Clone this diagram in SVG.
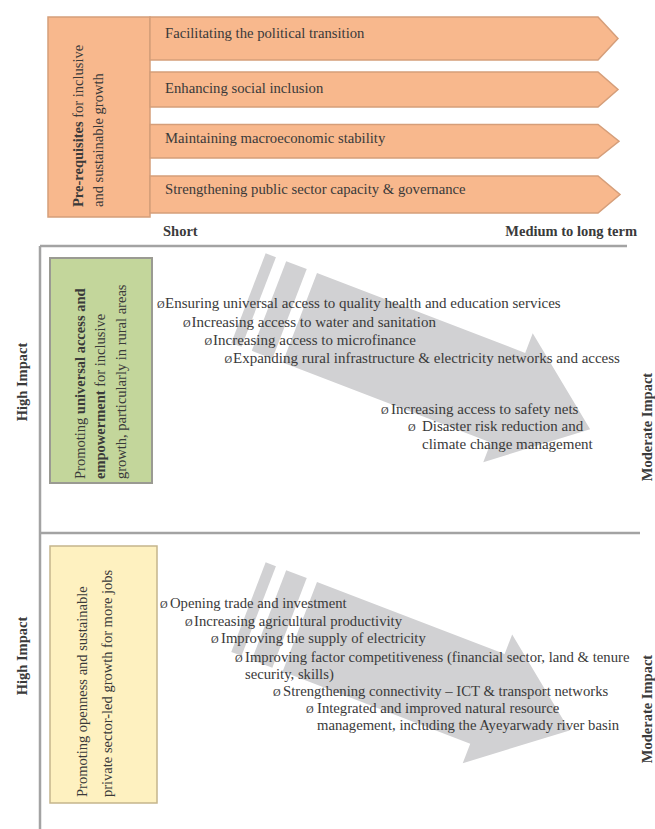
<svg xmlns="http://www.w3.org/2000/svg" width="655" height="829" viewBox="0 0 655 829">
<style>
  text { font-family: "Liberation Serif", "Times New Roman", serif; fill: #3a3a3a; }
  .s15 { font-size: 15px; }
  .s147 { font-size: 14.7px; }
  .s145 { font-size: 14.5px; }
  .b { font-weight: bold; }
  .bul { font-size: 10.5px; }
  .orange { fill: #F8B88D; stroke: #D59E7A; stroke-width: 1.5; }
  .green { fill: #C3D69B; stroke: #9A9A92; stroke-width: 2; }
  .yellow { fill: #FEF1C0; stroke: #C5B58C; stroke-width: 1.5; }
  .garrow { fill: #D1D1D3; }
  .axis { stroke: #A3A3A3; stroke-width: 2.5; fill: none; }
  .mid { text-anchor: middle; }
  .end { text-anchor: end; }
</style>
<defs>
  <g id="stripes">
    <rect x="-55" y="0" width="11" height="96"/>
    <rect x="-33" y="0" width="22" height="96"/>
  </g>
</defs>

<g id="axes">
  <path class="axis" d="M40,246 H627"/>
  <path class="axis" d="M40,246 V829"/>
  <path class="axis" d="M40,533 H640"/>
  <text class="s145 b" x="163" y="236">Short</text>
  <text class="s145 b end" x="637" y="236">Medium to long term</text>
  <text class="s145 b mid" transform="translate(27,382) rotate(-90)">High Impact</text>
  <text class="s145 b mid" transform="translate(27,656) rotate(-90)">High Impact</text>
  <text class="s145 b mid" transform="translate(652,427) rotate(-90)">Moderate Impact</text>
  <text class="s145 b mid" transform="translate(652,709) rotate(-90)">Moderate Impact</text>
</g>

<g id="connectors">
  <g class="garrow" transform="translate(317,273) rotate(21)">
    <use href="#stripes"/>
    <path d="M0,0 H223 V-21 L311,48 L223,117 V96 H0 Z"/>
  </g>
  <g class="garrow" transform="translate(317,582) rotate(21)">
    <use href="#stripes"/>
    <path d="M0,0 H201 V-21 L289,48 L201,117 V96 H0 Z"/>
  </g>
</g>

<g id="prerequisites">
  <rect class="orange" x="48" y="17" width="102" height="200"/>
  <text class="s145" transform="translate(82.5,207) rotate(-90)"><tspan class="b">Pre-requisites</tspan> for inclusive</text>
  <text class="s145" transform="translate(102.5,207) rotate(-90)">and sustainable growth</text>
</g>

<g id="arrow-political">
  <path class="orange" d="M150,17 H598 L618,38.5 L598,60 H150 Z"/>
  <text class="s147" x="165" y="38">Facilitating the political transition</text>
</g>
<g id="arrow-social">
  <path class="orange" d="M150,72 H598 L618,89.5 L598,107 H150 Z"/>
  <text class="s147" x="165" y="93">Enhancing social inclusion</text>
</g>
<g id="arrow-macro">
  <path class="orange" d="M150,124.5 H598 L619,141.25 L598,158 H150 Z"/>
  <text class="s147" x="165" y="143">Maintaining macroeconomic stability</text>
</g>
<g id="arrow-governance">
  <path class="orange" d="M150,176 H598 L620,194.5 L598,213 H150 Z"/>
  <text class="s147" x="165" y="194">Strengthening public sector capacity &amp; governance</text>
</g>

<g id="universal-access">
  <rect class="green" x="50" y="258" width="102" height="225"/>
  <text class="s145" transform="translate(85,479) rotate(-90)">Promoting <tspan class="b">universal access and</tspan></text>
  <text class="s145" transform="translate(105,479) rotate(-90)"><tspan class="b">empowerment</tspan> for inclusive</text>
  <text class="s145" transform="translate(126,479) rotate(-90)">growth, particularly in rural areas</text>
</g>

<g id="universal-access-items">
  <text class="s15" y="308"><tspan class="bul" x="157">Ø</tspan><tspan x="165">Ensuring universal access to quality health and education services</tspan></text>
  <text class="s15" y="326.5"><tspan class="bul" x="183">Ø</tspan><tspan x="191.5">Increasing access to water and sanitation</tspan></text>
  <text class="s15" y="344.5"><tspan class="bul" x="204.5">Ø</tspan><tspan x="213">Increasing access to microfinance</tspan></text>
  <text class="s15" y="362.5"><tspan class="bul" x="224.5">Ø</tspan><tspan x="233">Expanding rural infrastructure &amp; electricity networks and access</tspan></text>
  <text class="s15" y="414"><tspan class="bul" x="381">Ø</tspan><tspan x="391">Increasing access to safety nets</tspan></text>
  <text class="s15" y="431"><tspan class="bul" x="408">Ø</tspan><tspan x="422">Disaster risk reduction and</tspan></text>
  <text class="s15" x="422" y="449">climate change management</text>
</g>

<g id="openness">
  <rect class="yellow" x="50" y="546" width="107" height="257"/>
  <text class="s145" transform="translate(86.5,797) rotate(-90)">Promoting openness and sustainable</text>
  <text class="s145" transform="translate(111.5,797) rotate(-90)">private sector-led growth for more jobs</text>
</g>

<g id="openness-items">
  <text class="s147" y="608"><tspan class="bul" x="160">Ø</tspan><tspan x="170">Opening trade and investment</tspan></text>
  <text class="s147" y="626"><tspan class="bul" x="185">Ø</tspan><tspan x="194">Increasing agricultural productivity</tspan></text>
  <text class="s147" y="643"><tspan class="bul" x="211">Ø</tspan><tspan x="221">Improving the supply of electricity</tspan></text>
  <text class="s147" y="662"><tspan class="bul" x="235">Ø</tspan><tspan x="245">Improving factor competitiveness (financial sector, land &amp; tenure</tspan></text>
  <text class="s147" x="245" y="679">security, skills)</text>
  <text class="s147" y="696"><tspan class="bul" x="273">Ø</tspan><tspan x="283">Strengthening connectivity – ICT &amp; transport networks</tspan></text>
  <text class="s147" y="713"><tspan class="bul" x="306">Ø</tspan><tspan x="317">Integrated and improved natural resource</tspan></text>
  <text class="s147" x="317" y="730">management, including the Ayeyarwady river basin</text>
</g>
</svg>
